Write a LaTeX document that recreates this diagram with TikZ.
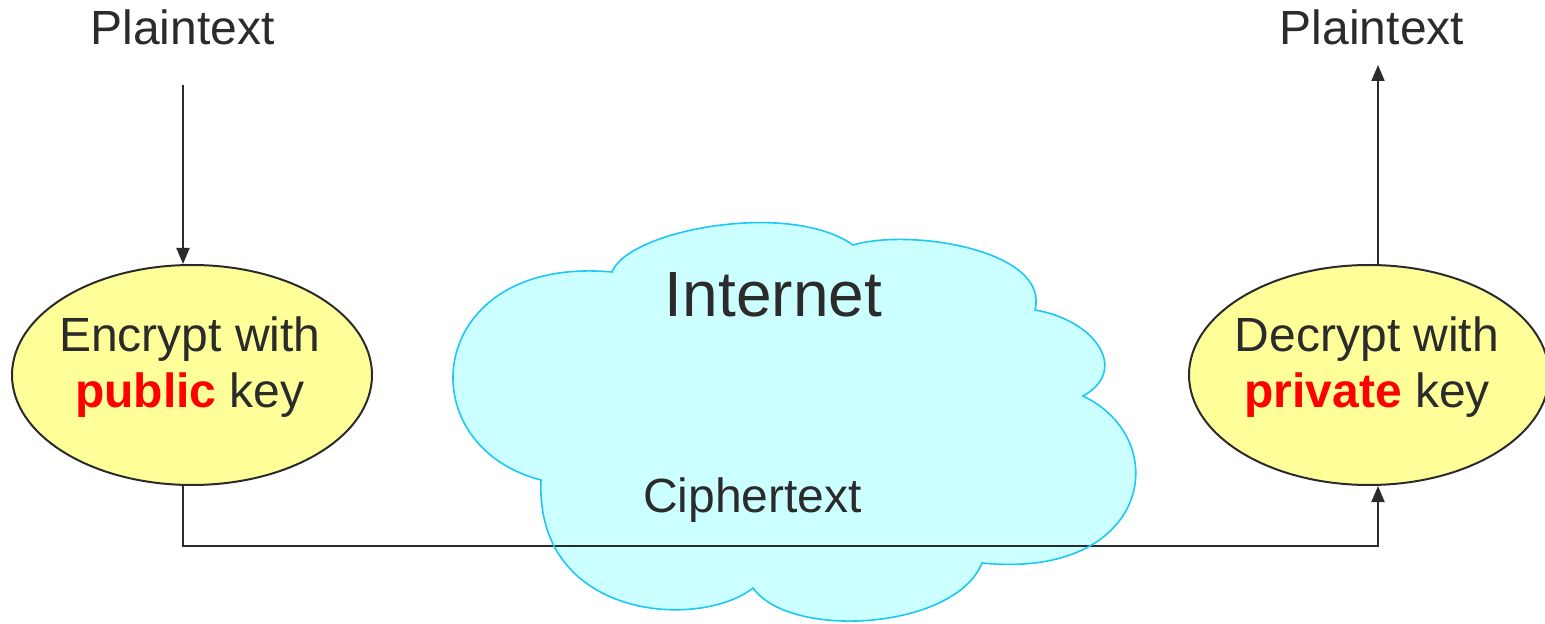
\documentclass[tikz,border=0pt]{standalone}
\usepackage{fontspec}
\setmainfont{Liberation Sans}
\usetikzlibrary{arrows.meta,shapes.geometric}
\definecolor{ink}{HTML}{2B2B2B}
\definecolor{ellfill}{HTML}{FFFF99}
\definecolor{cloudfill}{HTML}{CCFFFF}
\definecolor{cloudline}{HTML}{1EC8F5}
\definecolor{keyred}{HTML}{FF0000}
\newcommand{\cloudoutline}{(612,272) .. controls (628,230) and (790,200) .. (853,245)
  .. controls (910,228) and (1050,250) .. (1035,310)
  .. controls (1095,320) and (1130,370) .. (1083,396)
  .. controls (1175,440) and (1150,580) .. (982,563)
  .. controls (955,630) and (790,640) .. (753,588)
  .. controls (700,630) and (535,620) .. (541,480)
  .. controls (405,445) and (425,255) .. (612,272) -- cycle}
\begin{document}
\begin{tikzpicture}[x=0.5pt,y=-0.5pt,
  txt/.style={font=\fontsize{24pt}{28pt}\selectfont, text=ink, inner sep=0pt},
  bigtxt/.style={font=\fontsize{32pt}{38pt}\selectfont, text=ink, inner sep=0pt},
  oval/.style={ellipse, draw=ink, line width=1pt, fill=ellfill, minimum width=180pt, minimum height=110pt, inner sep=0pt},
  conn/.style={draw=ink, line width=1pt},
  arr/.style={conn, -{Triangle[length=8pt,width=6.5pt]}},
  cloudfillst/.style={fill=cloudfill},
  cloudedge/.style={draw=cloudline, line width=0.8pt}]
\useasboundingbox (0,0) rectangle (1545,624);
% cloud fill
\path[cloudfillst] \cloudoutline;
% nodes
\node[txt, anchor=base] (pt1) at (182.5,45) {Plaintext};
\node[txt, anchor=base] (pt2) at (1372,45) {Plaintext};
\node[oval] (enc) at (192,375) {};
\node[oval] (dec) at (1369,375) {};
\coordinate (s1) at (183,85);
\coordinate (s2) at (1378,65);
% connectors
\draw[arr] (s1) -- (s1 |- enc.north);
\draw[arr] (s2 |- dec.north) -- (s2);
\draw[arr] (s1 |- enc.south) -- ++(0,60) -| (s2 |- dec.south);
% cloud outline over line
\path[cloudedge] \cloudoutline;
% texts
\node[txt, anchor=base] (enc1) at (190,352) {Encrypt with};
\node[txt, anchor=base] (enc2) at (190,408) {\textcolor{keyred}{\textbf{public}} key};
\node[txt, anchor=base] (dec1) at (1367,352) {Decrypt with};
\node[txt, anchor=base] (dec2) at (1367,408) {\textcolor{keyred}{\textbf{private}} key};
\node[bigtxt, anchor=base] (inet) at (773.5,317) {Internet};
\node[txt, anchor=base] (ctext) at (752.5,512) {Ciphertext};
\end{tikzpicture}
\end{document}
